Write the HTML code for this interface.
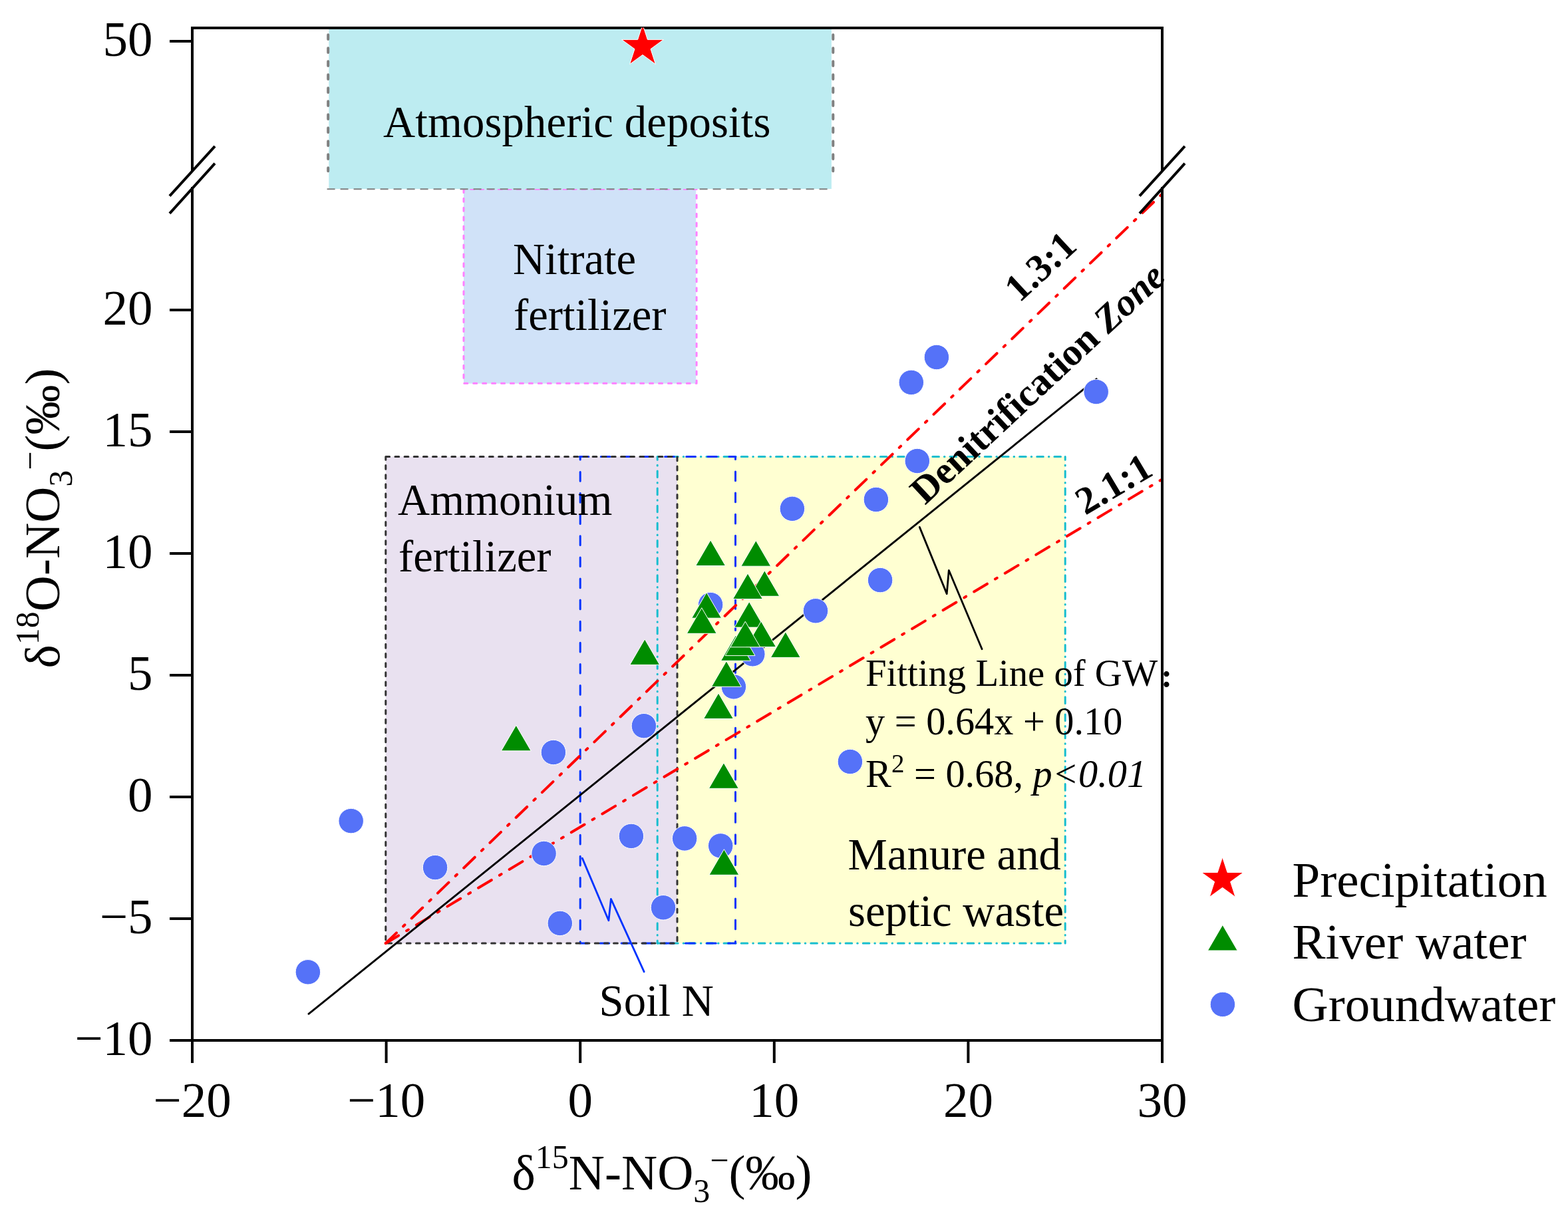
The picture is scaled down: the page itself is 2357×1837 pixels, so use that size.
<!DOCTYPE html>
<html lang="en">
<head>
<meta charset="utf-8">
<title>Nitrate dual-isotope plot</title>
<style>
html,body{margin:0;padding:0;background:#ffffff;}
body{width:2357px;height:1837px;overflow:hidden;}
svg{display:block;}
text{fill:#000000;}
</style>
</head>
<body>
<svg width="2357" height="1837" viewBox="0 0 2357 1837" font-family="'Liberation Serif','Noto Serif CJK SC',serif">
<rect x="0" y="0" width="2357" height="1837" fill="#ffffff"/>
<defs><clipPath id="plotclip"><rect x="289" y="41.6" width="1458" height="1523"/></clipPath></defs>
<rect x="697.0" y="284.0" width="349.2" height="292.6" fill="#d0e2f8"/>
<path d="M697.0,284.3 L697.0,576.3 L1047.1,576.3 L1047.1,284.3 L697.0,284.3" fill="none" stroke="#ff80ff" stroke-width="3.0" stroke-dasharray="5.1 8.84" stroke-dashoffset="0.0" stroke-linecap="round" stroke-linejoin="round"/>
<rect x="494.3" y="44.0" width="755.6" height="240.0" fill="#bdecf1"/>
<line x1="491.6" y1="284.3" x2="1250.0" y2="284.3" stroke="#808080" stroke-width="2" stroke-dasharray="12 8" stroke-linecap="butt"/>
<line x1="493.2" y1="52.3" x2="493.2" y2="257.2" stroke="#808080" stroke-width="4" stroke-dasharray="6.6 13.4" stroke-linecap="round"/>
<line x1="1252.3" y1="52.3" x2="1252.3" y2="257.2" stroke="#808080" stroke-width="4" stroke-dasharray="6.6 13.4" stroke-linecap="round"/>
<rect x="1016.5" y="686.5" width="584.7" height="731.5" fill="#ffffd2"/>
<rect x="579.8" y="686.5" width="438.2" height="731.5" fill="#e9e1f0"/>
<path d="M988.2,686.5 L1601.2,686.5" fill="none" stroke="#17becf" stroke-width="3.0" stroke-dasharray="9.6 8 0.55 8" stroke-dashoffset="4.75" stroke-linecap="round" stroke-linejoin="round"/>
<path d="M988.2,686.5 L988.2,1418.0" fill="none" stroke="#17becf" stroke-width="3.0" stroke-dasharray="9.6 8 0.55 8" stroke-dashoffset="4.75" stroke-linecap="round" stroke-linejoin="round"/>
<path d="M1601.2,686.5 L1601.2,1418.0" fill="none" stroke="#17becf" stroke-width="3.0" stroke-dasharray="9.6 8 0.55 8" stroke-dashoffset="4.75" stroke-linecap="round" stroke-linejoin="round"/>
<path d="M988.2,1418.0 L1601.2,1418.0" fill="none" stroke="#17becf" stroke-width="3.0" stroke-dasharray="9.6 8 0.55 8" stroke-dashoffset="4.75" stroke-linecap="round" stroke-linejoin="round"/>
<path d="M871.2,686.5 L1105.5,686.5 L1105.5,1418.0 L872.2,1418.0 L872.2,686.5" fill="none" stroke="#0033ff" stroke-width="3.0" stroke-dasharray="13.7 18.4" stroke-dashoffset="0.0" stroke-linecap="round" stroke-linejoin="round"/>
<path d="M579.8,686.5 L1018.0,686.5 L1018.0,1418.0 L579.8,1418.0 Z" fill="none" stroke="#333333" stroke-width="3.0" stroke-dasharray="5.8 8.35" stroke-dashoffset="0.0" stroke-linecap="round" stroke-linejoin="round"/>
<line x1="579.8" y1="1418.0" x2="1747.0" y2="291.4" stroke="#ff0000" stroke-width="4.0" stroke-dasharray="23 14.17 3.2 14.17" stroke-dashoffset="0.5" stroke-linecap="round"/>
<line x1="579.8" y1="1418.0" x2="1747.0" y2="720.5" stroke="#ff0000" stroke-width="4.0" stroke-dasharray="23 14.02 3.2 14.03" stroke-dashoffset="0.5" stroke-linecap="round"/>
<line x1="464.0" y1="1524.2" x2="1648.2" y2="569.6" stroke="#000000" stroke-width="2.9" stroke-linecap="round"/>
<polyline points="875.3,1290.1 914.9,1383.8 918.4,1351.4 968.2,1460.8" fill="none" stroke="#0033ff" stroke-width="2.8" stroke-linejoin="round" stroke-linecap="round"/>
<polyline points="1382.3,792.4 1423.2,892.6 1426.3,857.3 1476.1,975.8" fill="none" stroke="#000000" stroke-width="2.8" stroke-linejoin="round" stroke-linecap="round"/>
<circle cx="462.9" cy="1461.3" r="18.75" fill="#5572f8" stroke="#ffffff" stroke-width="1"/>
<circle cx="527.7" cy="1234.1" r="18.75" fill="#5572f8" stroke="#ffffff" stroke-width="1"/>
<circle cx="654.1" cy="1304.1" r="18.75" fill="#5572f8" stroke="#ffffff" stroke-width="1"/>
<circle cx="831.9" cy="1131.0" r="18.75" fill="#5572f8" stroke="#ffffff" stroke-width="1"/>
<circle cx="817.6" cy="1283.0" r="18.75" fill="#5572f8" stroke="#ffffff" stroke-width="1"/>
<circle cx="841.8" cy="1387.9" r="18.75" fill="#5572f8" stroke="#ffffff" stroke-width="1"/>
<circle cx="967.9" cy="1091.2" r="18.75" fill="#5572f8" stroke="#ffffff" stroke-width="1"/>
<circle cx="948.9" cy="1256.9" r="18.75" fill="#5572f8" stroke="#ffffff" stroke-width="1"/>
<circle cx="997.0" cy="1364.3" r="18.75" fill="#5572f8" stroke="#ffffff" stroke-width="1"/>
<circle cx="1029.1" cy="1260.4" r="18.75" fill="#5572f8" stroke="#ffffff" stroke-width="1"/>
<circle cx="1083.2" cy="1271.4" r="18.75" fill="#5572f8" stroke="#ffffff" stroke-width="1"/>
<circle cx="1068.1" cy="909.1" r="18.75" fill="#5572f8" stroke="#ffffff" stroke-width="1"/>
<circle cx="1131.3" cy="983.3" r="18.75" fill="#5572f8" stroke="#ffffff" stroke-width="1"/>
<circle cx="1102.9" cy="1032.4" r="18.75" fill="#5572f8" stroke="#ffffff" stroke-width="1"/>
<circle cx="1226.0" cy="918.3" r="18.75" fill="#5572f8" stroke="#ffffff" stroke-width="1"/>
<circle cx="1323.1" cy="872.1" r="18.75" fill="#5572f8" stroke="#ffffff" stroke-width="1"/>
<circle cx="1190.9" cy="764.8" r="18.75" fill="#5572f8" stroke="#ffffff" stroke-width="1"/>
<circle cx="1316.9" cy="751.0" r="18.75" fill="#5572f8" stroke="#ffffff" stroke-width="1"/>
<circle cx="1378.8" cy="693.0" r="18.75" fill="#5572f8" stroke="#ffffff" stroke-width="1"/>
<circle cx="1369.8" cy="574.9" r="18.75" fill="#5572f8" stroke="#ffffff" stroke-width="1"/>
<circle cx="1407.9" cy="537.0" r="18.75" fill="#5572f8" stroke="#ffffff" stroke-width="1"/>
<circle cx="1647.7" cy="589.0" r="18.75" fill="#5572f8" stroke="#ffffff" stroke-width="1"/>
<circle cx="1277.9" cy="1145.0" r="18.75" fill="#5572f8" stroke="#ffffff" stroke-width="1"/>
<polygon points="753.4,1128.8 798.2,1128.8 775.8,1090.2" fill="#008c00" stroke="#ffffff" stroke-width="1" stroke-linejoin="miter"/>
<polygon points="946.8,999.4 991.6,999.4 969.2,960.8" fill="#008c00" stroke="#ffffff" stroke-width="1" stroke-linejoin="miter"/>
<polygon points="1066.0,1315.3 1110.8,1315.3 1088.4,1276.7" fill="#008c00" stroke="#ffffff" stroke-width="1" stroke-linejoin="miter"/>
<polygon points="1065.5,1185.3 1110.3,1185.3 1087.9,1146.7" fill="#008c00" stroke="#ffffff" stroke-width="1" stroke-linejoin="miter"/>
<polygon points="1057.6,1080.5 1102.4,1080.5 1080.0,1041.9" fill="#008c00" stroke="#ffffff" stroke-width="1" stroke-linejoin="miter"/>
<polygon points="1069.5,1032.3 1114.3,1032.3 1091.9,993.7" fill="#008c00" stroke="#ffffff" stroke-width="1" stroke-linejoin="miter"/>
<polygon points="1083.6,993.3 1128.4,993.3 1106.0,954.7" fill="#008c00" stroke="#ffffff" stroke-width="1" stroke-linejoin="miter"/>
<polygon points="1090.2,985.6 1135.0,985.6 1112.6,947.0" fill="#008c00" stroke="#ffffff" stroke-width="1" stroke-linejoin="miter"/>
<polygon points="1158.4,988.4 1203.2,988.4 1180.8,949.8" fill="#008c00" stroke="#ffffff" stroke-width="1" stroke-linejoin="miter"/>
<polygon points="1103.8,943.1 1148.6,943.1 1126.2,904.5" fill="#008c00" stroke="#ffffff" stroke-width="1" stroke-linejoin="miter"/>
<polygon points="1121.7,972.5 1166.5,972.5 1144.1,933.9" fill="#008c00" stroke="#ffffff" stroke-width="1" stroke-linejoin="miter"/>
<polygon points="1097.9,972.8 1142.7,972.8 1120.3,934.2" fill="#008c00" stroke="#ffffff" stroke-width="1" stroke-linejoin="miter"/>
<polygon points="1039.7,929.2 1084.5,929.2 1062.1,890.6" fill="#008c00" stroke="#ffffff" stroke-width="1" stroke-linejoin="miter"/>
<polygon points="1032.4,952.3 1077.2,952.3 1054.8,913.7" fill="#008c00" stroke="#ffffff" stroke-width="1" stroke-linejoin="miter"/>
<polygon points="1126.9,896.3 1171.7,896.3 1149.3,857.7" fill="#008c00" stroke="#ffffff" stroke-width="1" stroke-linejoin="miter"/>
<polygon points="1101.6,900.5 1146.4,900.5 1124.0,861.9" fill="#008c00" stroke="#ffffff" stroke-width="1" stroke-linejoin="miter"/>
<polygon points="1045.7,850.5 1090.5,850.5 1068.1,811.9" fill="#008c00" stroke="#ffffff" stroke-width="1" stroke-linejoin="miter"/>
<polygon points="1113.9,851.2 1158.7,851.2 1136.3,812.6" fill="#008c00" stroke="#ffffff" stroke-width="1" stroke-linejoin="miter"/>
<line x1="287.0" y1="42.0" x2="1749.0" y2="42.0" stroke="#000" stroke-width="4" stroke-linecap="butt"/>
<line x1="287.0" y1="1564.0" x2="1749.0" y2="1564.0" stroke="#000" stroke-width="4" stroke-linecap="butt"/>
<line x1="289.0" y1="42.0" x2="289.0" y2="258.0" stroke="#000" stroke-width="4" stroke-linecap="butt"/>
<line x1="289.0" y1="281.0" x2="289.0" y2="1564.0" stroke="#000" stroke-width="4" stroke-linecap="butt"/>
<line x1="1747.0" y1="42.0" x2="1747.0" y2="258.0" stroke="#000" stroke-width="4" stroke-linecap="butt"/>
<line x1="1747.0" y1="281.0" x2="1747.0" y2="1564.0" stroke="#000" stroke-width="4" stroke-linecap="butt"/>
<line x1="255.0" y1="294.7" x2="323.0" y2="219.8" stroke="#000" stroke-width="4" stroke-linecap="butt"/>
<line x1="255.0" y1="320.8" x2="323.0" y2="245.7" stroke="#000" stroke-width="4" stroke-linecap="butt"/>
<line x1="1713.0" y1="294.7" x2="1781.0" y2="219.8" stroke="#000" stroke-width="4" stroke-linecap="butt"/>
<line x1="1713.0" y1="320.8" x2="1781.0" y2="245.7" stroke="#000" stroke-width="4" stroke-linecap="butt"/>
<line x1="255.0" y1="62.0" x2="289.0" y2="62.0" stroke="#000" stroke-width="4" stroke-linecap="butt"/>
<text x="229.5" y="83.6" font-size="75" text-anchor="end">50</text>
<line x1="255.0" y1="466.0" x2="289.0" y2="466.0" stroke="#000" stroke-width="4" stroke-linecap="butt"/>
<text x="229.5" y="487.6" font-size="75" text-anchor="end">20</text>
<line x1="255.0" y1="649.0" x2="289.0" y2="649.0" stroke="#000" stroke-width="4" stroke-linecap="butt"/>
<text x="229.5" y="670.6" font-size="75" text-anchor="end">15</text>
<line x1="255.0" y1="832.0" x2="289.0" y2="832.0" stroke="#000" stroke-width="4" stroke-linecap="butt"/>
<text x="229.5" y="853.6" font-size="75" text-anchor="end">10</text>
<line x1="255.0" y1="1015.0" x2="289.0" y2="1015.0" stroke="#000" stroke-width="4" stroke-linecap="butt"/>
<text x="229.5" y="1036.6" font-size="75" text-anchor="end">5</text>
<line x1="255.0" y1="1198.0" x2="289.0" y2="1198.0" stroke="#000" stroke-width="4" stroke-linecap="butt"/>
<text x="229.5" y="1219.6" font-size="75" text-anchor="end">0</text>
<line x1="255.0" y1="1381.0" x2="289.0" y2="1381.0" stroke="#000" stroke-width="4" stroke-linecap="butt"/>
<text x="229.5" y="1402.6" font-size="75" text-anchor="end">−5</text>
<line x1="255.0" y1="1564.0" x2="289.0" y2="1564.0" stroke="#000" stroke-width="4" stroke-linecap="butt"/>
<text x="229.5" y="1585.6" font-size="75" text-anchor="end">−10</text>
<line x1="289.0" y1="1564.0" x2="289.0" y2="1598.0" stroke="#000" stroke-width="4" stroke-linecap="butt"/>
<text x="289.0" y="1678.5" font-size="75" text-anchor="middle">−20</text>
<line x1="580.6" y1="1564.0" x2="580.6" y2="1598.0" stroke="#000" stroke-width="4" stroke-linecap="butt"/>
<text x="580.6" y="1678.5" font-size="75" text-anchor="middle">−10</text>
<line x1="872.2" y1="1564.0" x2="872.2" y2="1598.0" stroke="#000" stroke-width="4" stroke-linecap="butt"/>
<text x="872.2" y="1678.5" font-size="75" text-anchor="middle">0</text>
<line x1="1163.8" y1="1564.0" x2="1163.8" y2="1598.0" stroke="#000" stroke-width="4" stroke-linecap="butt"/>
<text x="1163.8" y="1678.5" font-size="75" text-anchor="middle">10</text>
<line x1="1455.4" y1="1564.0" x2="1455.4" y2="1598.0" stroke="#000" stroke-width="4" stroke-linecap="butt"/>
<text x="1455.4" y="1678.5" font-size="75" text-anchor="middle">20</text>
<line x1="1747.0" y1="1564.0" x2="1747.0" y2="1598.0" stroke="#000" stroke-width="4" stroke-linecap="butt"/>
<text x="1747.0" y="1678.5" font-size="75" text-anchor="middle">30</text>
<polygon points="966.0,36.8 973.4,59.6 997.4,59.6 978.0,73.7 985.4,96.5 966.0,82.4 946.6,96.5 954.0,73.7 934.6,59.6 958.6,59.6" fill="#ff0000" stroke="#ffffff" stroke-width="1" clip-path="url(#plotclip)"/>
<text x="995" y="1787.6" font-size="75" text-anchor="middle">δ<tspan font-size="50" dy="-31.5">15</tspan><tspan dy="31.5">N-NO</tspan><tspan font-size="50" dy="19">3</tspan><tspan font-size="50" dy="-46">−</tspan><tspan dy="27">(‰)</tspan></text>
<text transform="translate(89,779) rotate(-90)" font-size="75" text-anchor="middle">δ<tspan font-size="50" dy="-31.5">18</tspan><tspan dy="31.5">O-NO</tspan><tspan font-size="50" dy="19">3</tspan><tspan font-size="50" dy="-46">−</tspan><tspan dy="27">(‰)</tspan></text>
<text x="576.0" y="205.5" font-size="66.7" text-anchor="start" letter-spacing="0.14">Atmospheric deposits</text>
<text x="771.0" y="412.0" font-size="66.7" text-anchor="start">Nitrate</text>
<text x="772.0" y="496.2" font-size="66.7" text-anchor="start">fertilizer</text>
<text x="598.0" y="773.7" font-size="66.7" text-anchor="start">Ammonium</text>
<text x="599.0" y="859.0" font-size="66.7" text-anchor="start">fertilizer</text>
<text x="1274.5" y="1307.0" font-size="66.7" text-anchor="start">Manure and</text>
<text x="1275.0" y="1392.0" font-size="66.7" text-anchor="start">septic waste</text>
<text x="900.6" y="1526.7" font-size="66.7" text-anchor="start">Soil N</text>
<text x="1301" y="1030.5" font-size="56.7">Fitting Line of GW<tspan x="1742.1" y="1033" font-size="40" font-weight="900">：</tspan></text>
<text x="1301.0" y="1103.6" font-size="58.3" text-anchor="start">y = 0.64x + 0.10</text>
<text x="1301" y="1183" font-size="58.3">R<tspan font-size="39" dy="-22">2</tspan><tspan dy="22"> = 0.68, </tspan><tspan font-style="italic">p&lt;0.01</tspan></text>
<text transform="translate(1532.5,456) rotate(-43)" font-size="58.3" font-weight="bold">1.3:1</text>
<text transform="translate(1390.6,760) rotate(-43)" font-size="57.7" font-weight="bold">Denitrification <tspan font-style="italic">Zone</tspan></text>
<text transform="translate(1631.5,775) rotate(-30.7)" font-size="58.3" font-weight="bold">2.1:1</text>
<polygon points="1837.6,1288.7 1845.0,1311.5 1869.0,1311.5 1849.6,1325.6 1857.0,1348.4 1837.6,1334.3 1818.2,1348.4 1825.6,1325.6 1806.2,1311.5 1830.2,1311.5" fill="#ff0000" stroke="#ffffff" stroke-width="1"/>
<polygon points="1815.4,1429.0 1860.2,1429.0 1837.8,1390.4" fill="#008c00" stroke="#ffffff" stroke-width="1" stroke-linejoin="miter"/>
<circle cx="1837.9" cy="1509.9" r="18.75" fill="#5572f8" stroke="#ffffff" stroke-width="1"/>
<text x="1942.5" y="1347.5" font-size="75" text-anchor="start">Precipitation</text>
<text x="1942.5" y="1441.0" font-size="75" text-anchor="start">River water</text>
<text x="1942.5" y="1535.0" font-size="75" text-anchor="start">Groundwater</text>
</svg>
</body>
</html>
